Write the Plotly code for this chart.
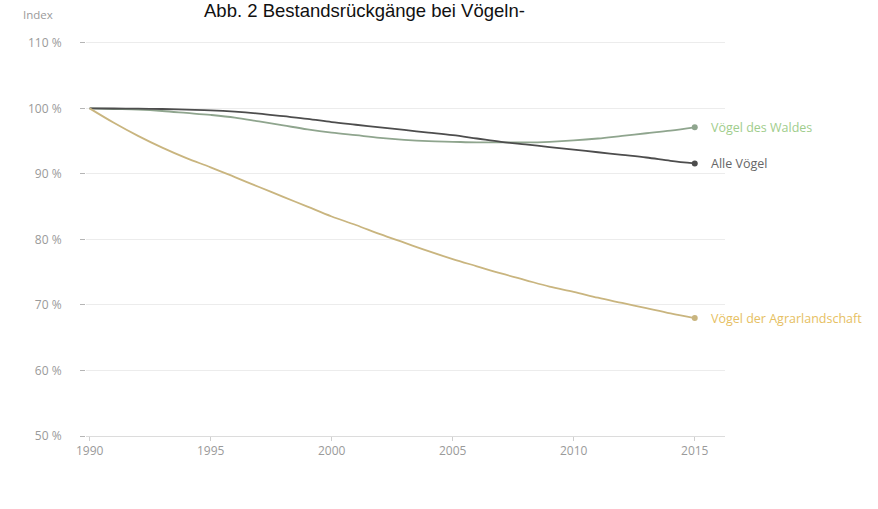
import plotly.graph_objects as go

years = list(range(1990, 2016))
alle_voegel = [100.0, 99.98, 99.95, 99.9, 99.8, 99.7, 99.5, 99.2, 98.8, 98.4, 97.9, 97.5, 97.1,
               96.7, 96.3, 95.9, 95.4, 94.9, 94.5, 94.1, 93.7, 93.3, 92.9, 92.5, 92.0, 91.6]
voegel_wald = [100.0, 99.9, 99.8, 99.6, 99.3, 99.0, 98.6, 98.0, 97.4, 96.8, 96.3, 95.9, 95.5,
               95.2, 95.0, 94.9, 94.8, 94.8, 94.8, 94.9, 95.1, 95.4, 95.8, 96.2, 96.6, 97.1]
voegel_agrar = [100.0, 97.8, 95.8, 94.0, 92.4, 91.0, 89.5, 88.0, 86.5, 85.0, 83.5, 82.2, 80.8,
                79.5, 78.2, 77.0, 75.9, 74.8, 73.8, 72.8, 72.0, 71.1, 70.3, 69.5, 68.7, 68.0]

series_names = ["Vögel des Waldes", "Alle Vögel", "Vögel der Agrarlandschaft"]
series_values = [voegel_wald, alle_voegel, voegel_agrar]
line_colors = ["#8fa58e", "#4d4d4d", "#c9b57f"]
label_colors = ["#9fcd8c", "#666666", "#e6c062"]

y_ticks = [50, 60, 70, 80, 90, 100, 110]
x_ticks = [1990, 1995, 2000, 2005, 2010, 2015]

fig = go.Figure()
for name, vals, lc, tc in zip(series_names, series_values, line_colors, label_colors):
    fig.add_trace(go.Scatter(x=years, y=vals, mode="lines", line=dict(color=lc, width=1.8, shape="spline"),
                             name=name, hoverinfo="skip", showlegend=False))
    fig.add_trace(go.Scatter(x=[years[-1]], y=[vals[-1]], mode="markers",
                             marker=dict(color=lc, size=6), showlegend=False, hoverinfo="skip"))
    fig.add_annotation(x=years[-1], y=vals[-1], text=name, showarrow=False, xanchor="left",
                       xshift=14, font=dict(family="Open Sans", size=12.5, color=tc))

fig.add_annotation(xref="paper", yref="paper", x=-0.102, y=1.022, text="Index", showarrow=False,
                   xanchor="left", yanchor="bottom",
                   font=dict(family="Open Sans", size=11.5, color="#9a9a9a"))
fig.add_annotation(xref="paper", yref="paper", x=0.181, y=1.088, text="Abb. 2 Bestandsrückgänge bei Vögeln-",
                   showarrow=False, xanchor="left", yanchor="top",
                   font=dict(family="Liberation Sans, Arial", size=18.5, color="#111111"))

fig.update_layout(
    width=878, height=509,
    margin=dict(l=86, r=153, t=33, b=73),
    paper_bgcolor="white", plot_bgcolor="white",
    xaxis=dict(range=[1989.85, 2016.25], tickvals=x_ticks, ticktext=[str(v) for v in x_ticks],
               showgrid=False, zeroline=False, showline=True, linecolor="#dcdcdc", linewidth=1,
               ticks="outside", ticklen=4, tickcolor="#cfcfcf",
               tickfont=dict(family="Open Sans", size=12, color="#9a9a9a")),
    yaxis=dict(range=[50, 111.5], tickvals=y_ticks, ticktext=[f"{v} %" for v in y_ticks],
               showgrid=True, gridcolor="#ececec", gridwidth=1, zeroline=False, showline=False,
               ticks="outside", ticklen=5, tickcolor="#b5b5b5", ticklabelstandoff=16,
               tickfont=dict(family="Open Sans", size=12, color="#9a9a9a")),
)

fig.write_html("out.html")
